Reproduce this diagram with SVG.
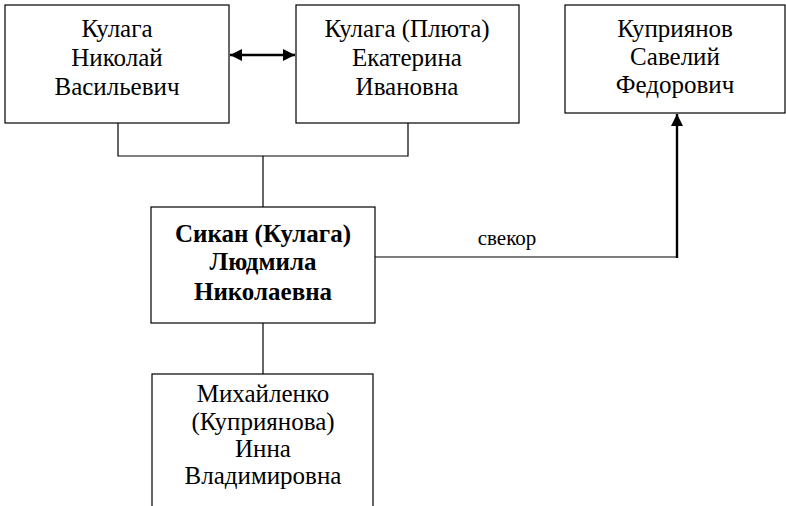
<svg xmlns="http://www.w3.org/2000/svg" width="786" height="506" viewBox="0 0 786 506">
<style>
.box{fill:#fff;stroke:#000;stroke-width:1.2}
.t{font-family:'Liberation Serif','Times New Roman',serif;font-size:25px;fill:#000;text-anchor:middle}
.b{font-weight:bold}
.ln{fill:none;stroke:#000;stroke-width:1.2}
.th{fill:none;stroke:#000;stroke-width:2.4}
.lbl{font-family:'Liberation Serif','Times New Roman',serif;font-size:21px;fill:#000;text-anchor:middle}
</style>
<defs>
<marker id="ah" viewBox="0 0 10 10" refX="10" refY="5" markerWidth="5" markerHeight="5" orient="auto-start-reverse" markerUnits="strokeWidth">
<path d="M0,0 L10,5 L0,10 z" fill="#000"/>
</marker>
</defs>
<g id="connectors">
<polyline class="ln" points="118,123 118,156 408,156 408,123"/>
<line class="ln" x1="263" y1="156" x2="263" y2="207"/>
<line class="ln" x1="263" y1="323" x2="263" y2="374"/>
<line class="th" x1="230" y1="55" x2="295" y2="55" marker-start="url(#ah)" marker-end="url(#ah)"/>
<line class="ln" x1="375" y1="257" x2="678" y2="257"/>
<line class="th" x1="677" y1="258" x2="677" y2="114" marker-end="url(#ah)"/>
<text class="lbl" x="507" y="245">свекор</text>
</g>
<g id="n1">
<rect class="box" x="5" y="5" width="224" height="118"/>
<text class="t" x="117" y="37">Кулага</text>
<text class="t" x="117" y="66">Николай</text>
<text class="t" x="117" y="95">Васильевич</text>
</g>
<g id="n2">
<rect class="box" x="296" y="5" width="223" height="118"/>
<text class="t" x="407" y="37">Кулага (Плюта)</text>
<text class="t" x="407" y="66">Екатерина</text>
<text class="t" x="407" y="95">Ивановна</text>
</g>
<g id="n3">
<rect class="box" x="565" y="5" width="220" height="108"/>
<text class="t" x="675" y="37">Куприянов</text>
<text class="t" x="675" y="65">Савелий</text>
<text class="t" x="675" y="93">Федорович</text>
</g>
<g id="n4">
<rect class="box" x="151" y="207" width="224" height="116"/>
<text class="t b" x="263" y="242">Сикан (Кулага)</text>
<text class="t b" x="263" y="270">Людмила</text>
<text class="t b" x="263" y="300">Николаевна</text>
</g>
<g id="n5">
<rect class="box" x="152" y="374" width="221" height="140"/>
<text class="t" x="263" y="402">Михайленко</text>
<text class="t" x="263" y="430">(Куприянова)</text>
<text class="t" x="263" y="457">Инна</text>
<text class="t" x="263" y="484">Владимировна</text>
</g>
</svg>
